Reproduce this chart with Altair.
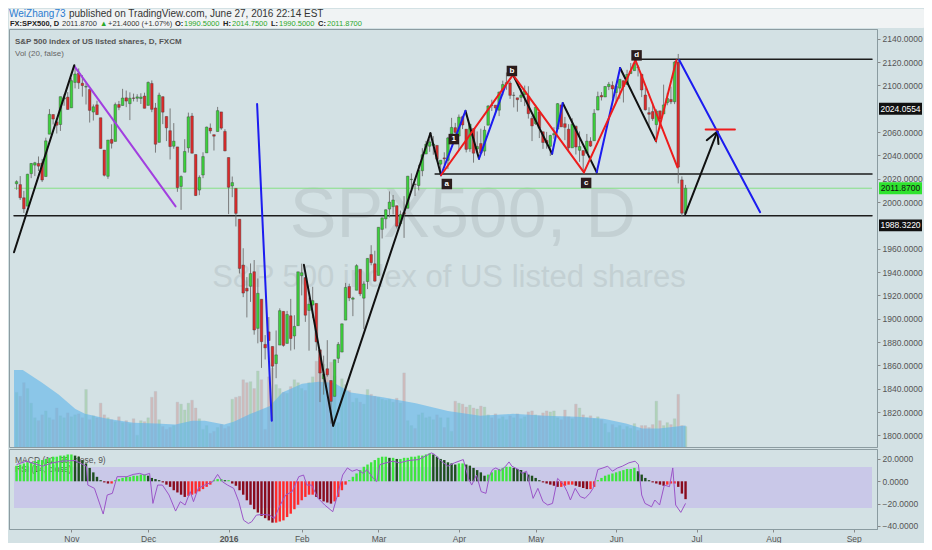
import altair as alt
import pandas as pd

FONT = "Liberation Sans"

# one row per daily bar, 12 Oct 2015 .. 28 Jun 2016 (FXCM also prints 26 Nov, 18 Jan, 15 Feb, 30 May)
opens = [
    2015.7, 2015.0, 2003.7, 1996.5, 2024.4, 2031.7, 2033.1, 2033.5, 2021.9, 2058.2, 2075.1, 2068.8, 2066.5, 2088.4, 2090.0,
    2080.8, 2102.6, 2110.6, 2101.9, 2098.6, 2096.6, 2077.2, 2083.4, 2072.3, 2044.6, 2022.1, 2053.7, 2052.0, 2083.7, 2082.8,
    2089.4, 2084.4, 2089.3, 2089.0, 2088.8, 2090.9,
    2082.9, 2101.7, 2080.7, 2051.2, 2090.4, 2073.4, 2061.2, 2047.9, 2047.3, 2013.4, 2025.6, 2046.5, 2073.8, 2040.8, 2010.3,
    2023.2, 2042.2, 2063.5, 2057.8, 2060.5, 2077.3, 2060.6,
    2038.2, 2013.8, 2011.7, 1985.3, 1946.0, 1926.1, 1927.8, 1940.3, 1891.7, 1916.7, 1878.0, 1888.7, 1876.2, 1861.5, 1877.4,
    1906.3, 1878.8, 1902.5, 1885.2, 1894.0,
    1936.9, 1935.3, 1907.1, 1911.7, 1913.1, 1873.3, 1848.5, 1857.1, 1847.0, 1833.4, 1866.0, 1871.4, 1898.8, 1927.6, 1916.7,
    1924.4, 1942.4, 1917.6, 1931.9, 1955.0, 1947.1,
    1937.1, 1976.6, 1985.6, 1994.0, 1996.1, 1996.9, 1981.4, 1991.0, 1994.7, 2019.3, 2015.3, 2014.2, 2026.9, 2041.2, 2047.9,
    2048.6, 2048.6, 2032.5, 2037.9, 2035.8, 2058.3, 2063.8,
    2056.6, 2073.2, 2062.5, 2045.6, 2063.0, 2045.5, 2050.2, 2043.7, 2065.9, 2082.9, 2083.1, 2078.8, 2096.1, 2101.5, 2102.1,
    2091.5, 2089.4, 2089.8, 2092.3, 2090.9, 2071.8,
    2067.2, 2077.2, 2060.3, 2052.9, 2047.8, 2057.6, 2062.6, 2083.3, 2067.2, 2062.5, 2046.5, 2065.0, 2044.4, 2044.2, 2041.9,
    2052.2, 2052.6, 2078.9, 2091.4, 2090.1, 2099.0, 2100.1,
    2093.9, 2097.7, 2104.1, 2100.8, 2110.2, 2112.7, 2115.7, 2109.6, 2091.8, 2076.7, 2077.6, 2066.4, 2078.2, 2075.6, 2085.2,
    2088.0, 2086.0, 2120.0, 2019.0, 1990.5,
]
highs = [
    2018.7, 2022.3, 2009.6, 2024.2, 2033.5, 2034.5, 2039.1, 2037.0, 2055.2, 2079.7, 2075.1, 2070.4, 2090.4, 2092.5, 2094.3,
    2106.2, 2116.5, 2114.6, 2108.8, 2101.9, 2096.6, 2083.7, 2086.9, 2072.3, 2044.6, 2053.2, 2066.7, 2085.3, 2086.7, 2097.1,
    2095.6, 2094.1, 2093.0, 2092.5, 2093.3, 2093.8,
    2103.4, 2104.3, 2085.0, 2093.8, 2090.4, 2073.4, 2080.3, 2067.7, 2047.3, 2022.9, 2053.9, 2076.7, 2076.4, 2040.8, 2022.9,
    2042.7, 2064.7, 2067.4, 2057.8, 2081.6, 2077.3, 2062.5,
    2038.2, 2021.9, 2011.7, 1985.3, 1960.4, 1935.7, 1947.4, 1950.3, 1934.5, 1916.7, 1886.0, 1901.4, 1876.2, 1889.9, 1908.9,
    1906.3, 1906.7, 1917.0, 1903.0, 1940.2,
    1947.2, 1935.3, 1918.0, 1927.4, 1913.1, 1873.3, 1868.3, 1881.6, 1847.0, 1864.8, 1880.0, 1895.8, 1930.7, 1930.0, 1918.8,
    1946.7, 1942.4, 1932.1, 1951.8, 1963.0, 1958.3,
    1978.4, 1986.5, 1993.7, 2009.1, 2006.1, 1996.9, 1992.7, 2005.1, 2022.4, 2024.6, 2015.9, 2032.0, 2046.2, 2052.4, 2053.9,
    2056.6, 2048.6, 2036.0, 2042.7, 2055.9, 2072.2, 2067.9,
    2075.1, 2074.0, 2062.5, 2067.3, 2063.0, 2060.6, 2062.9, 2065.1, 2083.2, 2087.8, 2083.2, 2094.7, 2104.1, 2111.1, 2103.8,
    2094.3, 2089.4, 2096.9, 2099.9, 2099.3, 2073.9,
    2083.4, 2077.2, 2060.3, 2060.2, 2057.7, 2064.2, 2084.9, 2083.3, 2073.0, 2066.8, 2071.9, 2065.7, 2060.6, 2044.2, 2058.4,
    2055.6, 2079.7, 2094.7, 2094.3, 2099.3, 2103.0, 2103.5,
    2101.0, 2105.3, 2104.1, 2113.4, 2119.2, 2120.6, 2117.6, 2109.6, 2098.1, 2081.3, 2085.2, 2079.6, 2078.2, 2100.7, 2093.7,
    2099.0, 2121.0, 2127.0, 2022.0, 2014.75,
]
lows = [
    2010.6, 2001.8, 1990.7, 1996.5, 2020.5, 2022.3, 2026.6, 2017.2, 2021.9, 2058.2, 2066.5, 2058.8, 2061.0, 2082.6, 2079.3,
    2080.8, 2097.5, 2097.0, 2090.4, 2083.7, 2068.2, 2069.9, 2074.9, 2045.7, 2022.0, 2019.9, 2045.9, 2052.0, 2078.8, 2082.8,
    2081.4, 2070.3, 2086.3, 2086.0, 2084.1, 2080.4,
    2082.9, 2077.1, 2042.4, 2051.2, 2066.8, 2052.3, 2036.5, 2045.7, 2008.8, 1993.3, 2025.6, 2042.4, 2041.7, 2005.3, 2005.9,
    2020.5, 2042.2, 2058.7, 2044.2, 2060.5, 2062.0, 2043.6,
    1989.7, 2004.2, 1979.1, 1938.8, 1918.5, 1901.1, 1914.4, 1886.3, 1878.9, 1857.8, 1865.0, 1864.6, 1812.3, 1849.0, 1877.4,
    1876.0, 1878.8, 1872.7, 1873.7, 1894.0,
    1920.0, 1897.3, 1872.6, 1900.5, 1872.7, 1828.5, 1834.9, 1850.3, 1810.1, 1833.4, 1862.0, 1871.4, 1898.8, 1915.1, 1902.2,
    1924.4, 1919.4, 1891.0, 1925.4, 1945.8, 1931.8,
    1937.1, 1968.8, 1977.4, 1986.8, 1989.4, 1977.4, 1979.8, 1969.3, 1994.7, 2012.1, 2005.2, 2010.0, 2022.2, 2041.2, 2043.1,
    2040.6, 2034.9, 2022.5, 2032.0, 2028.3, 2058.3, 2057.5,
    2044.0, 2062.6, 2042.6, 2043.1, 2033.8, 2041.7, 2041.9, 2039.7, 2065.9, 2078.1, 2076.3, 2073.7, 2091.7, 2096.3, 2088.5,
    2081.2, 2077.5, 2085.8, 2082.3, 2071.6, 2052.3,
    2066.1, 2054.9, 2045.6, 2045.8, 2039.5, 2054.3, 2062.6, 2064.5, 2053.1, 2043.1, 2046.5, 2040.8, 2034.5, 2025.9, 2041.9,
    2047.3, 2052.6, 2078.9, 2087.1, 2090.1, 2096.0, 2088.7,
    2085.1, 2088.6, 2085.4, 2100.8, 2110.2, 2112.7, 2107.7, 2090.0, 2078.5, 2064.1, 2069.6, 2050.4, 2062.8, 2075.6, 2083.0,
    2084.0, 2084.0, 2016.0, 1988.0, 1990.5,
]
closes = [
    2017.5, 2003.7, 1994.2, 2023.9, 2033.1, 2033.7, 2030.8, 2018.9, 2052.5, 2075.2, 2071.2, 2065.9, 2090.4, 2089.4, 2079.4,
    2104.1, 2109.8, 2102.3, 2099.9, 2099.2, 2078.6, 2081.7, 2075.0, 2046.0, 2023.0, 2053.2, 2050.4, 2083.6, 2081.2, 2089.2,
    2086.6, 2089.1, 2088.9, 2090.2, 2090.1, 2080.4,
    2102.6, 2079.5, 2049.6, 2091.7, 2077.1, 2063.6, 2047.6, 2052.2, 2012.4, 2021.9, 2043.4, 2073.1, 2041.9, 2005.6, 2021.2,
    2039.0, 2064.3, 2061.0, 2056.5, 2078.4, 2063.4, 2043.9,
    2012.7, 2016.7, 1990.3, 1943.1, 1922.0, 1923.7, 1938.7, 1890.3, 1921.8, 1880.3, 1875.0, 1881.3, 1859.3, 1869.0, 1906.9,
    1877.1, 1903.6, 1883.0, 1893.4, 1940.2,
    1939.4, 1903.0, 1912.5, 1915.5, 1880.1, 1853.4, 1852.2, 1851.9, 1829.1, 1864.8, 1878.0, 1895.6, 1926.8, 1917.8, 1917.8,
    1945.5, 1921.3, 1929.8, 1951.7, 1948.1, 1932.2,
    1978.4, 1986.5, 1993.4, 2000.0, 2001.8, 1979.3, 1989.3, 1989.6, 2022.2, 2019.6, 2015.1, 2027.2, 2040.6, 2049.6, 2051.6,
    2049.8, 2036.7, 2035.9, 2037.1, 2055.0, 2064.0, 2059.7,
    2072.8, 2066.1, 2045.2, 2066.7, 2041.9, 2047.6, 2042.0, 2061.7, 2082.4, 2082.8, 2080.7, 2094.3, 2100.8, 2102.4, 2091.5,
    2091.6, 2087.8, 2091.7, 2095.2, 2075.8, 2065.3,
    2081.4, 2063.4, 2051.1, 2050.6, 2057.1, 2058.7, 2084.4, 2064.5, 2064.1, 2046.6, 2066.7, 2047.2, 2047.6, 2040.0, 2052.3,
    2048.0, 2076.1, 2090.5, 2090.1, 2099.1, 2101.0, 2097.0,
    2099.3, 2105.3, 2099.1, 2109.4, 2112.1, 2119.1, 2115.5, 2096.1, 2079.1, 2075.3, 2071.5, 2078.0, 2071.2, 2083.3, 2088.9,
    2086.0, 2120.0, 2030.0, 1990.47, 2011.87,
]
volumes = [
    56, 52, 66, 60, 45, 30, 27, 33, 37, 30,
    28, 40, 32, 30, 35, 31, 33, 34, 30, 59,
    28, 32, 30, 45, 33, 30, 28, 26, 31, 25,
    27, 24, 29, 12, 27, 26, 30, 51, 57, 28,
    21, 18, 20, 22, 46, 44, 38, 45, 48, 40,
    29, 18, 22, 14, 16, 20, 23, 19, 21, 49,
    51, 52, 69, 66, 67, 60, 78, 69, 18, 72,
    81, 64, 60, 56, 55, 62, 69, 66, 60, 58,
    66, 72, 88, 92, 85, 80, 87, 73, 25, 70,
    64, 58, 46, 50, 46, 44, 59, 54, 52, 51,
    49, 48, 49, 46, 50, 45, 76, 27, 22, 19,
    33, 35, 30, 31, 28, 33, 30, 20, 30, 16,
    47, 45, 44, 41, 43, 40, 39, 42, 41, 33,
    30, 34, 29, 31, 28, 32, 30, 34, 29, 31,
    36, 37, 33, 32, 35, 37, 36, 37, 30, 28,
    38, 31, 29, 44, 40, 33, 30, 32, 29, 31,
    28, 24, 15, 23, 20, 22, 18, 21, 19, 24,
    17, 22, 22, 20, 23, 47, 27, 22, 25, 23,
    29, 54, 22, 21,
]
macd_hist = [
    14, 15, 16, 17, 17, 18, 19, 19, 20, 21,
    22, 22, 23, 23, 24, 24, 23, 22, 19, 16,
    12, 8, 4, 1, -1, -2, -2, 1, 2, 3,
    4, 4, 5, 5, 6, 6, 5, 3, 2, 1,
    -1, -3, -5, -8, -10, -12, -14, -13, -12, -11,
    -9, -7, -5, -3, 1, 2, 2, 1, 1, -2,
    -4, -8, -12, -17, -21, -25, -28, -31, -33, -35,
    -37, -37, -36, -35, -32, -29, -25, -21, -17, -14,
    -12, -12, -14, -16, -18, -19, -20, -18, -14, -8,
    -3, 1, 4, 7, 10, 13, 15, 17, 19, 21,
    22, 22, 21, 21, 20, 20, 21, 21, 22, 22,
    23, 23, 24, 25, 24, 22, 20, 19, 17, 16,
    15, 16, 16, 15, 14, 12, 10, 8, 5, 6,
    8, 10, 11, 12, 13, 13, 12, 11, 10, 8,
    6, 5, 3, 1, -1, -2, -3, -4, -5, -5,
    -4, -3, -3, -4, -5, -6, -7, -7, -5, 1,
    3, 5, 6, 7, 8, 9, 10, 11, 11, 12,
    9, 6, 3, 1, -1, -2, -3, -4, -3, -2,
    -2, -5, -11, -16,
]

# volume moving average (20) and RSI at these bar positions
vol_ma_at = [-0.7, 1.7, 7, 11.5, 16.1, 18.7, 24.8, 32, 38.2, 43.5, 48, 51.5, 56.8, 59.4, 64, 69.3, 72.7,
             78.1, 82.6, 86.8, 91.4, 100.2, 109.2, 118, 126.8, 135.8, 144.6, 153.4, 160.6, 166.7, 171.2, 175.7, 183]
vol_ma = [79, 79, 66, 54, 39, 34, 29, 25, 24, 23, 27, 27, 23, 26, 34, 42, 56,
          65, 67, 66, 56, 51, 45, 37, 32, 34, 32, 31, 29, 24, 19, 19, 22]
rsi_at = [0, 2.7, 7.1, 9.8, 12.4, 16, 19.1, 19.5, 21.3, 23.7, 24.8, 26.2, 27.5, 30.2, 31.9, 33.7, 35, 36.4, 37.3,
          38.6, 39.9, 41.7, 43.5, 44.8, 46.1, 47.5, 48.4, 49.7, 51.5, 53.7, 55, 56.3, 57.7, 59.4, 60.8, 62.1, 63.4,
          64.3, 65.6, 67.4, 69.2, 70.5, 71.9, 73.6, 75.4, 77.2, 78.5, 79.4, 80.7, 82.5, 84.3, 86.5, 87.8, 89.2, 90.5,
          91.8, 93.1, 94.9, 95.8, 97.6, 98.5, 99.4, 101.1, 102.9, 104.7, 107.3, 110, 111.8, 113.5, 114.4, 116.2, 118,
          119.8, 122.2, 123.6, 124.5, 125.8, 127.1, 128.4, 129.3, 130.2, 131.1, 132.4, 133.8, 134.7, 135.5, 137.3,
          138.2, 139.5, 140.4, 141.3, 142.6, 144, 145.3, 146.6, 148, 148.9, 149.7, 150.6, 151.5, 152.8, 154.2, 155.5,
          156.8, 157.7, 159, 160.4, 161.7, 163, 164.4, 165.7, 167.5, 169.2, 170.1, 171, 171.9, 173.7, 174.6, 175.9,
          177.2, 178.6, 179.5, 180.3, 181.7, 183]
rsi = [72.4, 75.7, 70.8, 74.1, 75.7, 76.4, 70.8, 52.4, 49.2, 24.1, 42.7, 44.3, 60.6, 60.6, 62.8, 63.8, 62.2, 63.8, 34.5,
       52.4, 52.4, 42.7, 27, 36.2, 32.9, 46, 36.2, 49.2, 52.4, 55.7, 62.8, 55.7, 52.4, 49.2, 36.2, 18.1, 14.9,
       16.5, 23.1, 23.7, 23.1, 19.8, 31.2, 42.7, 46, 60.6, 62.2, 52.4, 52.4, 39.4, 32.9, 26.4, 42.7, 62.2, 69.1,
       65.9, 67.5, 63.8, 67.5, 58.9, 55.7, 72.4, 74.1, 75.7, 74.1, 76.4, 77.3, 80.6, 83.8, 82.2, 75.7, 70.8,
       74.1, 77.3, 58.9, 52.4, 62.2, 46, 44.3, 60.6, 67.5, 69.1, 66.5, 70.8, 75, 70.8, 67.5,
       63.8, 65.9, 52.4, 39.4, 49.2, 36.2, 32.9, 34.5, 58.9, 55.7, 52.4, 46, 37.8, 49.2, 41.1, 39.4,
       44.3, 49.2, 67.5, 69.1, 70.8, 65.9, 69.1, 70.8, 74.1, 75.7, 72.4, 42.7, 34.5, 31.2, 37.8, 32.9,
       52.4, 50.8, 69.1, 32.9, 25.7, 34.5]

# drawings: (bar0, price0, bar1, price1)
black_lines = [(-0.7, 1957.0, 15.8, 2117.4), (78.6, 1946.2, 86.6, 1808.3), (86.6, 1808.3, 113.2, 2059.0),
               (113.2, 2059.0, 116.1, 2023.0), (122.8, 2078.2, 126.5, 2037.2), (135.8, 2109.1, 146.5, 2041.4),
               (149.4, 2084.9, 158.7, 2025.5), (165.1, 2115.0, 174.9, 2052.3), (182.9, 1989.6, 191.7, 2060.6),
               (191.7, 2060.6, 188.8, 2053.1), (191.7, 2060.6, 192.0, 2049.8)]
blue_lines = [(65.8, 2084.0, 69.8, 1812.5), (116.1, 2023.0, 122.8, 2078.2), (126.5, 2037.2, 133.7, 2099.9),
              (146.5, 2041.4, 149.4, 2084.9), (158.7, 2025.5, 165.1, 2115.0), (181.3, 2121.6, 203.4, 1991.3)]
red_lines = [(116.1, 2023.0, 135.8, 2109.1), (135.8, 2109.1, 155.2, 2025.5), (155.2, 2025.5, 169.3, 2121.6),
             (169.3, 2121.6, 180.8, 2029.7), (174.9, 2052.3, 180.5, 2121.6), (188.5, 2062.3, 196.5, 2062.3)]
purple_lines = [(15.8, 2116.6, 43.5, 1996.3)]
levels = [(169.9, 2122.5, 234, 2122.5), (114.5, 2024.06, 234, 2024.06), (-0.7, 1988.32, 234, 1988.32)]
point_names = ["a", "b", "c", "d", "1"]
point_bar = [117.7, 135.5, 155.8, 169.6, 119.6]
point_price = [2015.5, 2112.4, 2016.4, 2125.8, 2054.0]
last_price = 2011.87
tag_texts = ["2024.0554", "2011.8700", "1988.3220"]
tag_at = [2080, 2011.87, 1980]
price_ticks = [v for v in range(1800, 2141, 20) if v not in (2080, 1980)]  # these two sit under the tags

month_ticks = [15, 36, 58, 78, 99, 121, 142, 164, 186, 207, 229]
month_names = ["Nov", "Dec", "2016", "Feb", "Mar", "Apr", "May", "Jun", "Jul", "Aug", "Sep"]

n = len(opens)
assert all(len(a) == n for a in (highs, lows, closes, volumes, macd_hist))
assert len(vol_ma_at) == len(vol_ma) and len(rsi_at) == len(rsi)

W, H_MAIN, H_MACD = 868, 418, 80
X_SCALE = alt.Scale(domain=[-0.7, 234], nice=False, zero=False)
P_SCALE = alt.Scale(domain=[1790, 2148.4], nice=False, zero=False)
V_SCALE = alt.Scale(domain=[0, 429], nice=False, zero=False)
M_SCALE = alt.Scale(domain=[-42.7, 28.9], nice=False, zero=False)
R_SCALE = alt.Scale(domain=[9.5, 87.6], nice=False, zero=False)

expr = " : ".join(f"datum.value == {v} ? '{m}'" for v, m in zip(month_ticks, month_names)) + " : ''"
month_axis = alt.Axis(values=month_ticks, labelExpr=expr, grid=False, title=None, labelFont=FONT,
                      labelFontSize=8.5, labelColor="#555", tickSize=3, tickColor="#888", domainColor="#8a9ba0",
                      labelPadding=2, labelOverlap=False,
                      labelFontWeight={"condition": {"test": "datum.value == 58", "value": "bold"}, "value": "normal"})
price_axis = alt.Axis(orient="right", values=price_ticks, format=".4f", grid=False, title=None,
                      labelFont=FONT, labelFontSize=8.5, labelColor="#555", tickSize=3, tickColor="#888",
                      domainColor="#8a9ba0", labelPadding=2)
macd_axis = alt.Axis(orient="right", values=[-40, -20, 0, 20], format=".4f", grid=False, title=None,
                     labelFont=FONT, labelFontSize=8.5, labelColor="#555", tickSize=3, tickColor="#888",
                     domainColor="#8a9ba0", labelPadding=2)


def xq(field, axis=None):
    return alt.X(f"{field}:Q", scale=X_SCALE, axis=axis)


def yq(field, scale, axis=None):
    return alt.Y(f"{field}:Q", scale=scale, axis=axis)


def note(txt, x, y, size=8, color="#555", weight="normal", align="left"):
    return alt.Chart(pd.DataFrame({"t": [txt]})).mark_text(
        align=align, baseline="middle", font=FONT, fontSize=size, color=color, fontWeight=weight
    ).encode(text="t:N", x=alt.value(x), y=alt.value(y))


def seg_layer(segs, color, width=2.0):
    df = pd.DataFrame(segs, columns=["x0", "p0", "x1", "p1"])
    return alt.Chart(df).mark_rule(color=color, strokeWidth=width, strokeCap="round").encode(
        x=xq("x0"), x2="x1:Q", y=yq("p0", P_SCALE), y2="p1:Q"
    )


bars = pd.DataFrame({"i": range(n), "open": opens, "high": highs, "low": lows, "close": closes,
                     "vol": volumes, "hist": macd_hist})
bars["zero"] = 0
prev = bars["hist"].shift(1).fillna(bars["hist"])
bars["hcat"] = [
    ("pos_up" if h >= p else "pos_dn") if h >= 0 else ("neg_dn" if h < p else "neg_up")
    for h, p in zip(bars["hist"], prev)
]
up = "datum.close >= datum.open"

# ---------------- header ----------------
green = "#2aa82a"
header = alt.layer(
    note("WeiZhang73", 0, 5, 10, "#2b7bd0"),
    note("published on TradingView.com, June 27, 2016 22:14 EST", 60, 5, 10, "#333"),
    note("FX:SPX500, D", 1, 14.5, 7.5, "#222", "bold"),
    note("2011.8700", 53, 14.5, 7.5, "#333"),
    note("▲", 91, 14.5, 7.5, green),
    note("+21.4000 (+1.07%)", 99, 14.5, 7.5, "#333"),
    note("O:", 166, 14.5, 7.5, "#222", "bold"), note("1990.5000", 175, 14.5, 7.5, green),
    note("H:", 214, 14.5, 7.5, "#222", "bold"), note("2014.7500", 223, 14.5, 7.5, green),
    note("L:", 262, 14.5, 7.5, "#222", "bold"), note("1990.5000", 270, 14.5, 7.5, green),
    note("C:", 309, 14.5, 7.5, "#222", "bold"), note("2011.8700", 318, 14.5, 7.5, green),
).properties(width=914, height=18, view=alt.ViewBackground(fill="#f0f3f4", stroke="#f0f3f4"))

# ---------------- main price pane ----------------
wm1 = note("SPX500, D", 454, 187, 70, "#c3d0d3", align="center")
wm2 = note("S&P 500 index of US listed shares", 440, 249, 31, "#c3d0d3", align="center")

vol_bars = alt.Chart(bars).mark_bar(size=2.6, opacity=0.45, stroke="#8397a8", strokeWidth=0.3).encode(
    x=xq("i"), y=yq("vol", V_SCALE),
    color=alt.condition(up, alt.value("#86c184"), alt.value("#c98e8b")),
)
vol_area = alt.Chart(pd.DataFrame({"i": vol_ma_at, "ma": vol_ma})).mark_area(
    color="#5fb5ea", opacity=0.62
).encode(x=xq("i"), y=yq("ma", V_SCALE))

price_line = alt.Chart(pd.DataFrame({"x0": [-0.7], "x1": [234], "p": [last_price]})).mark_rule(
    color="#86e086", strokeWidth=1
).encode(x=xq("x0"), x2="x1:Q", y=yq("p", P_SCALE))

wicks = alt.Chart(bars).mark_rule(color="#6f6f6f", strokeWidth=0.9).encode(
    x=xq("i"), y=yq("low", P_SCALE, price_axis), y2="high:Q"
)
bodies = alt.Chart(bars).mark_bar(size=2.6, stroke="#3a3a3a", strokeWidth=0.4).encode(
    x=xq("i"), y=yq("open", P_SCALE), y2="close:Q",
    color=alt.condition(up, alt.value("#3bd13b"), alt.value("#dc2a2a")),
)

pts = pd.DataFrame({"i": point_bar, "p": point_price, "t": point_names})
pt_box = alt.Chart(pts).mark_square(size=110, color="#2b1c1c", opacity=1).encode(x=xq("i"), y=yq("p", P_SCALE))
pt_txt = alt.Chart(pts).mark_text(font=FONT, fontSize=8, fontWeight="bold", color="white").encode(
    x=xq("i"), y=yq("p", P_SCALE), text="t:N"
)

tags = pd.DataFrame({"t": tag_texts, "p": tag_at})
tags["lo"] = tags["p"] - 5.1
tags["hi"] = tags["p"] + 5.1
tag_fill = "datum.t == '2011.8700'"
tag_box = alt.Chart(tags).mark_bar().encode(
    x=alt.value(W + 2), x2=alt.value(W + 45), y=yq("lo", P_SCALE), y2="hi:Q",
    color=alt.condition(tag_fill, alt.value("#2ee32e"), alt.value("#111111")),
)
tag_txt = alt.Chart(tags).mark_text(font=FONT, fontSize=8.5, align="center", baseline="middle").encode(
    x=alt.value(W + 23.5), y=yq("p", P_SCALE), text="t:N",
    color=alt.condition(tag_fill, alt.value("#111111"), alt.value("#ffffff")),
)

main = alt.layer(
    wm1, wm2, vol_bars, vol_area,
    note("S&P 500 index of US listed shares, D, FXCM", 6, 13, 8, "#555", "bold"),
    note("Vol (20, false)", 6, 25, 8, "#666"),
    price_line,
    seg_layer(levels, "#1c1c1c", 1.5),
    wicks, bodies,
    seg_layer(purple_lines, "#a23fe0"),
    seg_layer(black_lines, "#111111"),
    seg_layer(blue_lines, "#1c1cf0"),
    seg_layer(red_lines, "#ee1c1c"),
    pt_box, pt_txt, tag_box, tag_txt,
).resolve_scale(y="independent").properties(width=W, height=H_MAIN)

# ---------------- MACD / RSI pane ----------------
band = alt.Chart(pd.DataFrame({"x0": [-0.7], "x1": [234], "lo": [30], "hi": [70]})).mark_rect(
    color="#c9c8e8"
).encode(x=xq("x0", month_axis), x2="x1:Q", y=yq("lo", R_SCALE), y2="hi:Q")

hist = alt.Chart(bars).mark_bar(size=2.4).encode(
    x=xq("i", month_axis), y=yq("hist", M_SCALE, macd_axis), y2="zero:Q",
    color=alt.Color("hcat:N", legend=None, scale=alt.Scale(
        domain=["pos_up", "pos_dn", "neg_dn", "neg_up"],
        range=["#3de63d", "#1f4f1f", "#8a0c1e", "#ff2b2b"])),
)
rsi_line = alt.Chart(pd.DataFrame({"i": rsi_at, "r": rsi})).mark_line(color="#9b55c8", strokeWidth=1).encode(
    x=xq("i", month_axis), y=yq("r", R_SCALE)
)

macd = alt.layer(
    band,
    note("MACD (12, 26, close, 9)", 6, 11, 8.5, "#555"),
    note("RSI (14, close)", 6, 20, 8.5, "#555"),
    hist, rsi_line,
).resolve_scale(y="independent").properties(width=W, height=H_MACD)

chart = alt.vconcat(header, main, macd, spacing=0).properties(
    padding=0, background="#d3e1e4"
).configure_view(stroke="#8c9ca1", strokeWidth=1)

chart.save("out.html", embed_options={"renderer": "svg", "actions": False})
